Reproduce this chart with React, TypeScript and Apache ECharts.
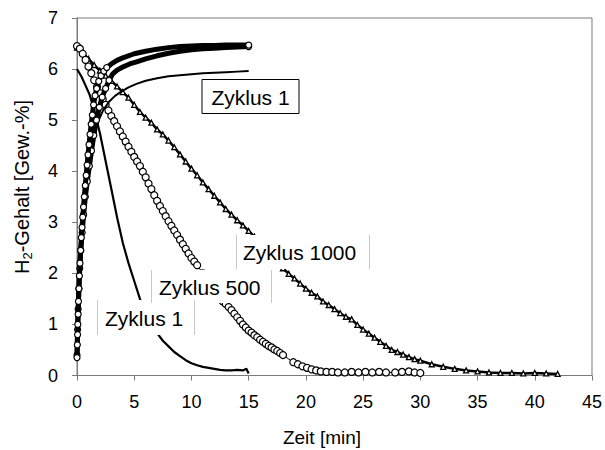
import React, { useEffect, useRef } from "react";
import * as echarts from "echarts";

// Time axis ticks and value axis ticks
const xTicks = [0, 5, 10, 15, 20, 25, 30, 35, 40, 45];
const yTicks = [0, 1, 2, 3, 4, 5, 6, 7];

// Absorption curve, cycle 500 (fast, circles)
const absAX = [0, 0.03, 0.05, 0.07, 0.1, 0.13, 0.17, 0.21, 0.26, 0.32, 0.38, 0.44, 0.5, 0.57, 0.64, 0.72, 0.8, 0.88, 0.96, 1.05, 1.14, 1.24, 1.34, 1.45, 1.58, 1.72, 1.9, 2.1, 2.35, 2.6, 3, 3.5, 4, 5, 6, 7, 8, 9, 10, 11, 12, 13, 14, 15];
const absAY = [0.35, 0.6, 0.8, 1.0, 1.2, 1.45, 1.7, 1.95, 2.2, 2.45, 2.7, 2.9, 3.1, 3.3, 3.5, 3.72, 3.92, 4.12, 4.32, 4.52, 4.72, 4.92, 5.1, 5.3, 5.48, 5.62, 5.76, 5.87, 5.96, 6.03, 6.1, 6.17, 6.22, 6.3, 6.35, 6.39, 6.42, 6.44, 6.45, 6.46, 6.46, 6.47, 6.47, 6.47];

// Absorption curve, cycle 1000 (circles)
const absBX = [0, 0.05, 0.1, 0.16, 0.24, 0.33, 0.45, 0.58, 0.73, 0.9, 1.08, 1.27, 1.47, 1.7, 1.95, 2.2, 2.5, 2.8, 3.1, 3.5, 4, 4.6, 5.2, 6, 7, 8, 9, 10, 11, 12, 13, 14, 15];
const absBY = [0.4, 0.9, 1.3, 1.7, 2.1, 2.45, 2.8, 3.15, 3.5, 3.8, 4.1, 4.4, 4.7, 5.0, 5.25, 5.45, 5.62, 5.78, 5.9, 5.98, 6.04, 6.1, 6.14, 6.2, 6.26, 6.31, 6.35, 6.38, 6.4, 6.41, 6.42, 6.43, 6.44];

// Absorption curve, cycle 1 (thin line)
const absCX = [0, 0.1, 0.2, 0.35, 0.55, 0.8, 1.1, 1.5, 1.9, 2.3, 2.8, 3.3, 3.8, 4.5, 5.2, 6, 7, 8, 9, 10, 11, 12, 13, 14, 15];
const absCY = [0.4, 1.1, 1.8, 2.6, 3.3, 3.9, 4.35, 4.75, 5.0, 5.2, 5.36, 5.47, 5.55, 5.64, 5.71, 5.77, 5.82, 5.86, 5.88, 5.9, 5.92, 5.93, 5.94, 5.95, 5.96];

// Desorption, cycle 1 (thin line)
const des1X = [0, 0.4, 0.7, 1.1, 1.5, 2, 2.5, 3, 3.5, 4, 4.5, 5, 5.5, 6, 6.5, 7, 7.5, 8, 8.5, 9, 9.5, 10, 10.5, 11, 11.5, 12, 12.5, 13, 13.5, 14, 14.5, 14.8, 15];
const des1Y = [6.0, 5.85, 5.7, 5.5, 5.2, 4.75, 4.2, 3.65, 3.1, 2.6, 2.2, 1.85, 1.5, 1.25, 1.02, 0.83, 0.68, 0.57, 0.46, 0.38, 0.3, 0.24, 0.2, 0.17, 0.15, 0.13, 0.11, 0.1, 0.1, 0.11, 0.1, 0.13, 0.04];

// Desorption, cycle 500 (open circles)
const des500X = [0, 0.25, 0.5, 0.75, 1, 1.25, 1.5, 1.75, 2, 2.25, 2.5, 2.75, 3, 3.25, 3.5, 3.75, 4, 4.25, 4.5, 4.75, 5, 5.25, 5.5, 5.75, 6, 6.25, 6.5, 6.75, 7, 7.25, 7.5, 7.75, 8, 8.25, 8.5, 8.75, 9, 9.25, 9.5, 9.75, 10, 10.25, 10.5, 11, 11.5, 12, 12.5, 12.75, 13, 13.25, 13.5, 13.75, 14, 14.25, 14.5, 14.75, 15, 15.25, 15.5, 15.75, 16, 16.25, 16.5, 16.75, 17, 17.25, 17.5, 17.75, 18, 18.9, 19.3, 19.7, 20.1, 20.5, 20.9, 21.3, 21.8, 22.3, 22.8, 23.4, 24, 24.6, 25.2, 25.8, 26.4, 27, 27.8, 28.4, 29, 29.5, 30];
const des500Y = [6.45, 6.4, 6.3, 6.18, 6.05, 5.92, 5.78, 5.65, 5.53, 5.41, 5.3, 5.19, 5.08, 4.98, 4.88, 4.78, 4.68, 4.58, 4.48, 4.38, 4.28, 4.19, 4.1, 3.99, 3.88, 3.76, 3.65, 3.53, 3.42, 3.32, 3.22, 3.12, 3.02, 2.93, 2.84, 2.75, 2.66, 2.57, 2.48, 2.39, 2.3, 2.23, 2.16, 2.0, 1.84, 1.68, 1.52, 1.45, 1.4, 1.34, 1.28, 1.21, 1.14, 1.07, 1.0, 0.94, 0.88, 0.84, 0.79, 0.75, 0.7, 0.66, 0.62, 0.58, 0.55, 0.51, 0.48, 0.44, 0.4, 0.26, 0.22, 0.18, 0.15, 0.12, 0.1, 0.08, 0.07, 0.07, 0.06, 0.06, 0.07, 0.06, 0.07, 0.06, 0.07, 0.06, 0.06, 0.07, 0.08, 0.06, 0.05];

// Desorption, cycle 1000 (small triangles)
const des1000X = [0, 0.5, 1, 1.5, 2, 2.5, 3, 3.5, 4, 4.5, 5, 5.5, 6, 6.5, 7, 7.5, 8, 8.5, 9, 9.5, 10, 10.5, 11, 11.5, 12, 12.5, 13, 13.5, 14, 14.5, 15, 15.5, 16, 16.5, 17, 17.5, 18, 18.5, 19, 19.5, 20, 20.5, 21, 21.5, 22, 22.5, 23, 23.5, 24, 24.5, 25, 25.5, 26, 26.5, 27, 27.5, 28, 28.5, 29, 29.5, 30, 31, 32, 33, 34, 35, 36, 37, 38, 39, 40, 41, 42];
const des1000Y = [6.42, 6.32, 6.2, 6.08, 5.97, 5.87, 5.77, 5.66, 5.55, 5.44, 5.3, 5.16, 5.05, 4.95, 4.82, 4.72, 4.6, 4.47, 4.33, 4.19, 4.05, 3.92, 3.78, 3.65, 3.52, 3.39, 3.26, 3.15, 3.04, 2.94, 2.83, 2.72, 2.6, 2.47, 2.35, 2.22, 2.1, 1.99, 1.9, 1.8, 1.7, 1.62, 1.55, 1.45, 1.38, 1.3, 1.22, 1.15, 1.1, 0.99, 0.9, 0.82, 0.74, 0.66, 0.58, 0.5, 0.46, 0.41, 0.36, 0.32, 0.29, 0.22, 0.17, 0.13, 0.1, 0.08, 0.06, 0.05, 0.05, 0.04, 0.05, 0.04, 0.03];

const FONT = "Liberation Sans, Arial, sans-serif";

function zip(xs: number[], ys: number[]) {
  return xs.map((x, i) => [x, ys[i]]);
}

function markedUntil(xs: number[], ys: number[], limit: number) {
  return xs.map((x, i) => ({
    value: [x, ys[i]],
    symbol: x <= limit || i === xs.length - 1 ? "circle" : "none",
  }));
}

export default function App() {
  const ref = useRef<HTMLDivElement>(null);

  useEffect(() => {
    if (!ref.current) return;
    const chart = echarts.init(ref.current, undefined, { renderer: "svg" });

    const openCircle = { color: "#fff", borderColor: "#000", borderWidth: 1.2 };

    chart.setOption({
      animation: false,
      backgroundColor: "#fff",
      grid: {
        left: 77,
        right: 13,
        top: 18,
        bottom: 74.5,
        show: true,
        borderColor: "#7a7a7a",
        borderWidth: 1,
        backgroundColor: "transparent",
      },
      xAxis: {
        type: "value",
        min: xTicks[0],
        max: xTicks[xTicks.length - 1],
        interval: 5,
        axisLine: { show: true, lineStyle: { color: "#7a7a7a", width: 1 } },
        axisTick: { show: true, length: 5, lineStyle: { color: "#7a7a7a" } },
        splitLine: { show: false },
        axisLabel: { color: "#000", fontSize: 18, fontFamily: FONT, margin: 17 },
      },
      yAxis: {
        type: "value",
        min: yTicks[0],
        max: yTicks[yTicks.length - 1],
        interval: 1,
        axisLine: { show: true, lineStyle: { color: "#7a7a7a", width: 1 } },
        axisTick: { show: true, length: 5, lineStyle: { color: "#7a7a7a" } },
        splitLine: { show: false },
        axisLabel: { color: "#000", fontSize: 18, fontFamily: FONT, margin: 19 },
      },
      series: [
        {
          type: "line",
          name: "Desorption Zyklus 1000",
          data: zip(des1000X, des1000Y),
          showAllSymbol: true,
          symbol: "triangle",
          symbolSize: 5,
          itemStyle: { color: "#fff", borderColor: "#000", borderWidth: 1.3 },
          lineStyle: { color: "#000", width: 2.5 },
          z: 2,
        },
        {
          type: "line",
          name: "Desorption Zyklus 500",
          data: zip(des500X, des500Y),
          showAllSymbol: true,
          symbol: "circle",
          symbolSize: 7,
          itemStyle: openCircle,
          lineStyle: { color: "#000", width: 1 },
          z: 3,
        },
        {
          type: "line",
          name: "Desorption Zyklus 1",
          data: zip(des1X, des1Y),
          showSymbol: false,
          symbol: "none",
          lineStyle: { color: "#000", width: 2.2 },
          z: 4,
        },
        {
          type: "line",
          name: "Absorption Zyklus 1",
          data: zip(absCX, absCY),
          showSymbol: false,
          symbol: "none",
          lineStyle: { color: "#000", width: 2 },
          z: 4,
        },
        {
          type: "line",
          name: "Absorption Zyklus 1000",
          data: markedUntil(absBX, absBY, 2.8),
          showAllSymbol: true,
          symbolSize: 6,
          itemStyle: openCircle,
          lineStyle: { color: "#000", width: 5 },
          z: 5,
        },
        {
          type: "line",
          name: "Absorption Zyklus 500",
          data: markedUntil(absAX, absAY, 2.6),
          showAllSymbol: true,
          symbolSize: 6,
          itemStyle: openCircle,
          lineStyle: { color: "#000", width: 5 },
          z: 6,
        },
      ],
      graphic: [
        // top boxed label
        {
          type: "rect",
          z: 100,
          shape: { x: 202, y: 79.5, width: 97, height: 34 },
          style: { fill: "#fff", stroke: "#000", lineWidth: 1 },
        },
        {
          type: "text",
          z: 101,
          x: 250.5,
          y: 97,
          style: { text: "Zyklus 1", font: `21px ${FONT}`, fill: "#000", align: "center", verticalAlign: "middle" },
        },
        // lower Zyklus 1
        {
          type: "rect",
          z: 100,
          shape: { x: 97, y: 300, width: 98, height: 35 },
          style: { fill: "#fff" },
        },
        { type: "line", z: 101, shape: { x1: 97.5, y1: 300, x2: 97.5, y2: 335 }, style: { stroke: "#c8c8c8", lineWidth: 1 } },
        { type: "line", z: 101, shape: { x1: 194.5, y1: 300, x2: 194.5, y2: 335 }, style: { stroke: "#c8c8c8", lineWidth: 1 } },
        {
          type: "text",
          z: 101,
          x: 105,
          y: 318,
          style: { text: "Zyklus 1", font: `21px ${FONT}`, fill: "#000", align: "left", verticalAlign: "middle" },
        },
        // Zyklus 500
        {
          type: "rect",
          z: 100,
          shape: { x: 151, y: 270, width: 121, height: 33 },
          style: { fill: "#fff" },
        },
        { type: "line", z: 101, shape: { x1: 151.5, y1: 270, x2: 151.5, y2: 303 }, style: { stroke: "#c8c8c8", lineWidth: 1 } },
        { type: "line", z: 101, shape: { x1: 271.5, y1: 270, x2: 271.5, y2: 303 }, style: { stroke: "#c8c8c8", lineWidth: 1 } },
        {
          type: "text",
          z: 101,
          x: 159,
          y: 287,
          style: { text: "Zyklus 500", font: `21px ${FONT}`, fill: "#000", align: "left", verticalAlign: "middle" },
        },
        // Zyklus 1000
        {
          type: "rect",
          z: 100,
          shape: { x: 236, y: 235, width: 134, height: 34 },
          style: { fill: "#fff" },
        },
        { type: "line", z: 101, shape: { x1: 236.5, y1: 235, x2: 236.5, y2: 269 }, style: { stroke: "#c8c8c8", lineWidth: 1 } },
        { type: "line", z: 101, shape: { x1: 369.5, y1: 235, x2: 369.5, y2: 269 }, style: { stroke: "#c8c8c8", lineWidth: 1 } },
        {
          type: "text",
          z: 101,
          x: 243,
          y: 252,
          style: { text: "Zyklus 1000", font: `21px ${FONT}`, fill: "#000", align: "left", verticalAlign: "middle" },
        },
        // axis titles
        {
          type: "text",
          z: 101,
          x: 322,
          y: 437,
          style: { text: "Zeit [min]", font: `19px ${FONT}`, fill: "#000", align: "center", verticalAlign: "middle" },
        },
        {
          type: "text",
          z: 101,
          x: 22,
          y: 187,
          rotation: Math.PI / 2,
          style: {
            text: "{a|H}{s|2}{a|-Gehalt [Gew.-%]}",
            align: "center",
            verticalAlign: "middle",
            rich: {
              a: { fontSize: 20, fontFamily: FONT, fill: "#000", color: "#000" },
              s: { fontSize: 13, fontFamily: FONT, fill: "#000", color: "#000", padding: [10, 0, 0, 0] },
            },
          },
        },
      ],
    });

    return () => chart.dispose();
  }, []);

  return (
    <div
      ref={ref}
      style={{ position: "absolute", left: 0, top: 0, width: 605, height: 450 }}
    />
  );
}
